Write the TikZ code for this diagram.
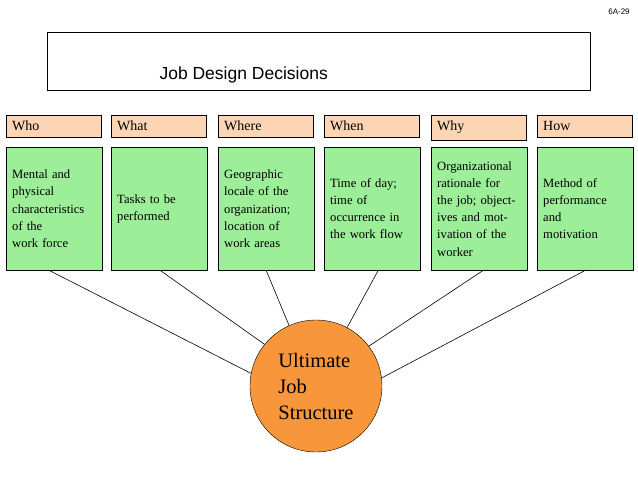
\documentclass[tikz,border=0pt]{standalone}
\usepackage{fontspec}
\setmainfont{Liberation Serif}
\newfontfamily\arialfont{Liberation Sans}
\usepackage{tikz}
\usetikzlibrary{arrows,shapes}
\definecolor{peach}{RGB}{252,213,180}
\definecolor{lightgreen}{RGB}{156,238,152}
\definecolor{ballorange}{RGB}{247,150,58}
\tikzstyle{titlebox}=[draw,semithick,anchor=north west,minimum width=543pt,minimum height=58pt,inner sep=0pt]
\tikzstyle{head}=[draw,fill=peach,anchor=north west,minimum width=95pt,minimum height=22pt,inner sep=6pt,text width=83pt,align=left,font=\fontsize{14}{16}\selectfont]
\tikzstyle{item}=[draw,fill=lightgreen,anchor=north west,minimum width=95pt,minimum height=123pt,inner sep=6pt,text width=84pt,align=left,font=\fontsize{12.6}{17.2}\selectfont]
\tikzstyle{ball}=[circle,draw,fill=ballorange,minimum size=132pt,inner sep=0pt,align=left,font=\fontsize{20.5}{26}\selectfont]
\tikzstyle{edge} = [draw,semithick,-]

\begin{document}
\begin{tikzpicture}[x=1pt,y=-1pt]
        \useasboundingbox (0,0) rectangle (638,479);
        \node[font=\arialfont\fontsize{8}{9}\selectfont] (page) at (619,12) {6A-29};
        \node[titlebox] (title) at (47,32) {};
        \node[font=\arialfont\fontsize{17.5}{20}\selectfont,anchor=base west] (titletext) at (156,79) {Job Design Decisions};
        % header row
        \node[head] (who) at (6,115) {Who};
        \node[head] (what) at (111,115) {What};
        \node[head] (where) at (218,115) {Where};
        \node[head] (when) at (324,115) {When};
        \node[head] (why) at (431,115) {Why};
        \node[head] (how) at (537,115) {How};
        % descriptions
        \node[item] (d1) at (6,147) {Mental and\\physical\\characteristics\\of the\\work force};
        \node[item] (d2) at (111,147) {Tasks to be\\performed};
        \node[item] (d3) at (218,147) {Geographic\\locale of the\\organization;\\location of\\work areas};
        \node[item] (d4) at (324,147) {Time of day;\\time of\\occurrence in\\the work flow};
        \node[item] (d5) at (431,147) {Organizational\\rationale for\\the job; object-\\ives and mot-\\ivation of the\\worker};
        \node[item] (d6) at (537,147) {Method of\\performance\\and\\motivation};
        \node[ball] (s) at (316,386) {Ultimate\\Job\\Structure};
        \draw[edge] ([xshift=-5pt]d1.south) to (s.169);
        \draw[edge] ([xshift=1pt]d2.south) to (s.141);
        \draw[edge] (d3.south) to (s.114);
        \draw[edge] ([xshift=6pt]d4.south) to (s.62);
        \draw[edge] ([xshift=4pt]d5.south) to (s.37);
        \draw[edge] (d6.south) to (s.7);
      \end{tikzpicture}
\end{document}
